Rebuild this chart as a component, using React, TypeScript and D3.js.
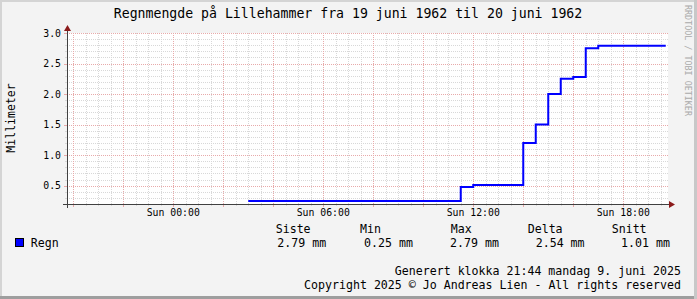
import React from "react";
import * as d3 from "d3";

const W = 697;
const H = 299;

// Step data: hours relative to Sun 00:00, values in mm
const stepHours = [3, 11.5, 12, 14, 14.5, 15, 15.5, 16, 16.5, 17, 19.7];
const stepValues = [0.25, 0.48, 0.51, 1.2, 1.5, 2.0, 2.25, 2.28, 2.75, 2.79, 2.79];

const yTicks = [0.5, 1.0, 1.5, 2.0, 2.5, 3.0];
const xLabelHours = [0, 6, 12, 18];
const xLabelText = ["Sun 00:00", "Sun 06:00", "Sun 12:00", "Sun 18:00"];

const legendHeaders = ["Siste", "Min", "Max", "Delta", "Snitt"];
const legendValues = ["2.79 mm", "0.25 mm", "2.79 mm", "2.54 mm", "1.01 mm"];

const FONT = "'DejaVu Sans Mono', monospace";

export default function App() {
  const x0 = 67, x1 = 667, y0 = 204, y1 = 33;
  const x = d3.scaleLinear().domain([-4.25, 19.75]).range([x0, x1]);
  const y = d3.scaleLinear().domain([0.2, 3.0]).range([y0, y1]);

  const minorY = d3.range(3, 31).map((v) => v / 10).filter((v) => Math.round(v * 10) % 5 !== 0);
  const majorY = yTicks;
  const allHalfHours = d3.range(-8, 40).map((v) => v / 2).filter((h) => h > -4.25 && h < 19.75);
  const majorX = allHalfHours.filter((h) => Math.abs(h % 2) === 0);
  const minorX = allHalfHours.filter((h) => Math.abs(h % 2) !== 0);

  const pts = stepHours.map((h, i) => [x(h), y(stepValues[i])] as [number, number]);
  const line = d3.line().curve(d3.curveStepAfter)(pts) || "";

  const minorColor = "#d8d8d8";
  const majorColor = "#e8aaaa";
  const axisColor = "#404040";
  const arrowColor = "#8b1a1a";

  const hdrX = [275.7, 360, 450.7, 527.7, 611.7];
  const valX = [277.3, 364, 450, 535.7, 621];

  return (
    <svg width={W} height={H} style={{ position: "absolute", left: 0, top: 0 }} fontFamily={FONT}>
      <rect x={0} y={0} width={W} height={H} fill="#f3f3f3" />
      {/* 3D border */}
      <line x1={0} y1={1} x2={W} y2={1} stroke="#d4d4d4" strokeWidth={2} />
      <line x1={1} y1={0} x2={1} y2={H} stroke="#d4d4d4" strokeWidth={2} />
      <line x1={0} y1={H - 1.5} x2={W} y2={H - 1.5} stroke="#9e9e9e" strokeWidth={3} />
      <line x1={W - 1.5} y1={0} x2={W - 1.5} y2={H} stroke="#c8c8c8" strokeWidth={3} />

      <rect x={x0} y={y1} width={x1 - x0 + 1} height={y0 - y1} fill="#ffffff" />

      {/* grid */}
      {minorY.map((v, i) => (
        <g key={"my" + i}>
          <line x1={x0 - 2} x2={x0} y1={Math.round(y(v)) + 0.5} y2={Math.round(y(v)) + 0.5} stroke={minorColor} />
          <line x1={x0} x2={x1 + 1} y1={Math.round(y(v)) + 0.5} y2={Math.round(y(v)) + 0.5} stroke={minorColor} strokeDasharray="1,1" />
        </g>
      ))}
      {minorX.map((h, i) => (
        <g key={"mx" + i}>
          <line x1={Math.round(x(h)) + 0.5} x2={Math.round(x(h)) + 0.5} y1={y1} y2={y0} stroke={minorColor} strokeDasharray="1,1" />
          <line x1={Math.round(x(h)) + 0.5} x2={Math.round(x(h)) + 0.5} y1={y0} y2={y0 + 2} stroke={minorColor} />
        </g>
      ))}
      {majorY.map((v, i) => (
        <g key={"My" + i}>
          <line x1={x0 - 3} x2={x0} y1={Math.round(y(v)) + 0.5} y2={Math.round(y(v)) + 0.5} stroke={majorColor} />
          <line x1={x0} x2={x1 + 1} y1={Math.round(y(v)) + 0.5} y2={Math.round(y(v)) + 0.5} stroke={majorColor} strokeDasharray="1,1" />
        </g>
      ))}
      {majorX.map((h, i) => (
        <g key={"Mx" + i}>
          <line x1={Math.round(x(h)) + 0.5} x2={Math.round(x(h)) + 0.5} y1={y1} y2={y0} stroke={majorColor} strokeDasharray="1,1" />
          <line x1={Math.round(x(h)) + 0.5} x2={Math.round(x(h)) + 0.5} y1={y0} y2={y0 + 3} stroke={majorColor} />
        </g>
      ))}

      {/* data */}
      <path d={line} fill="none" stroke="#0000ff" strokeWidth={2} />

      {/* axes */}
      <line x1={x0 - 4} x2={x1 + 3} y1={y0 + 0.5} y2={y0 + 0.5} stroke={axisColor} />
      <line x1={x0 + 0.5} x2={x0 + 0.5} y1={y0 + 4} y2={y1 - 4} stroke={axisColor} />
      <path d={`M${x1 + 2},${y0 - 3} L${x1 + 8},${y0 + 0.5} L${x1 + 2},${y0 + 4} Z`} fill={arrowColor} />
      <path d={`M${x0 - 3},${y1 - 2} L${x0 + 0.5},${y1 - 8} L${x0 + 4},${y1 - 2} Z`} fill={arrowColor} />

      {/* y labels */}
      {yTicks.map((v, i) => (
        <text key={"yl" + i} x={61} y={y(v) + 3.5} textAnchor="end" fontSize={9.8} fill="#000">
          {v.toFixed(1)}
        </text>
      ))}
      {/* x labels */}
      {xLabelHours.map((h, i) => (
        <text key={"xl" + i} x={x(h)} y={216} textAnchor="middle" fontSize={9.8} fill="#000">
          {xLabelText[i]}
        </text>
      ))}

      {/* title */}
      <text x={348} y={18.3} textAnchor="middle" fontSize={13.2} fill="#000">
        Regnmengde på Lillehammer fra 19 juni 1962 til 20 juni 1962
      </text>
      <text transform="translate(14.5,118) rotate(-90)" textAnchor="middle" fontSize={11.5} fill="#000">
        Millimeter
      </text>
      <text transform="translate(685,5) rotate(90)" fontSize={8.4} fill="#aaaaaa">
        RRDTOOL / TOBI OETIKER
      </text>

      {/* legend */}
      <rect x={15.5} y={238.5} width={8} height={8} fill="#0000ff" stroke="#000" strokeWidth={1} />
      <text x={30.7} y={246.7} fontSize={11.6} fill="#000">Regn</text>
      {legendHeaders.map((t, i) => (
        <text key={"lh" + i} x={hdrX[i]} y={233.3} fontSize={11.6} fill="#000">{t}</text>
      ))}
      {legendValues.map((t, i) => (
        <text key={"lv" + i} x={valX[i]} y={246.7} fontSize={11.6} fill="#000" xmlSpace="preserve">{t}</text>
      ))}
      <text x={681} y={274.8} textAnchor="end" fontSize={11.6} fill="#000">
        Generert klokka 21:44 mandag 9. juni 2025
      </text>
      <text x={681} y={289} textAnchor="end" fontSize={11.6} fill="#000">
        Copyright 2025 © Jo Andreas Lien - All rights reserved
      </text>
    </svg>
  );
}
